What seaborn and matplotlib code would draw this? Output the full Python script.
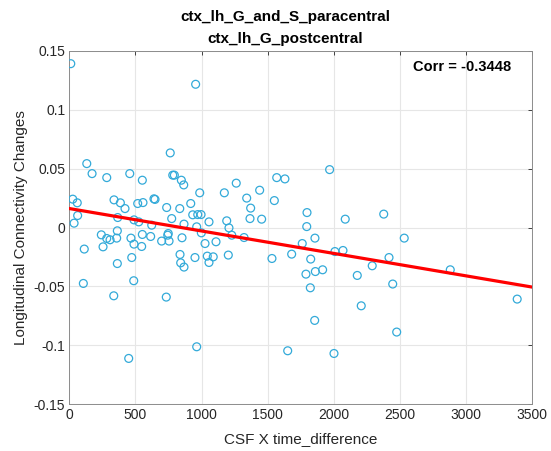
import numpy as np
import pandas as pd
import seaborn as sns
import matplotlib
matplotlib.use("Agg")
import matplotlib.pyplot as plt

# ---- data ----
csf_x_time = [11, 955, 763, 132, 172, 283, 457, 552, 782, 794, 847, 865, 986, 1262, 1172,
              1341, 1439, 1568, 1630, 1550, 1371, 1366, 1454, 1797, 1795, 26, 60, 338, 386,
              421, 517, 557, 640, 648, 736, 835, 918, 933, 971, 996, 963, 1056, 867, 774,
              1190, 1207, 63, 36, 366, 489, 525, 623, 242, 283, 308, 363, 358, 466, 489,
              552, 547, 615, 698, 748, 744, 754, 852, 837, 842, 867, 950, 1026, 1109, 1043,
              1056, 1088, 1202, 1228, 1321, 1532, 1681, 1761, 1789, 1822, 1825, 113, 255,
              363, 472, 487, 106, 336, 733, 963, 449, 1651, 998, 1968, 1857, 2086, 2377,
              2532, 2008, 2069, 1860, 1915, 2177, 2290, 2417, 2445, 2880, 2207, 1855, 2475,
              2001, 3386]
conn_change = [0.1392, 0.1217, 0.0634, 0.0543, 0.0458, 0.0424, 0.0458, 0.0402, 0.0445, 0.0445,
               0.0402, 0.0362, 0.0295, 0.0377, 0.0295, 0.0250, 0.0317, 0.0424, 0.0413, 0.0229,
               0.0165, 0.0076, 0.0071, 0.0127, 0.0008, 0.0241, 0.0210, 0.0235, 0.0210, 0.0161,
               0.0204, 0.0212, 0.0244, 0.0239, 0.0170, 0.0161, 0.0204, 0.0108, 0.0110, 0.0110,
               0.0006, 0.0048, 0.0029, 0.0076, 0.0057, -0.0003, 0.0102, 0.0037, 0.0085, 0.0065,
               0.0048, 0.0020, -0.0062, -0.0093, -0.0104, -0.0028, -0.0090, -0.0090, -0.0141,
               -0.0059, -0.0161, -0.0076, -0.0115, -0.0051, -0.0065, -0.0115, -0.0087, -0.0229,
               -0.0300, -0.0336, -0.0255, -0.0136, -0.0121, -0.0243, -0.0297, -0.0249, -0.0234,
               -0.0065, -0.0085, -0.0263, -0.0226, -0.0136, -0.0396, -0.0512, -0.0268, -0.0183,
               -0.0164, -0.0306, -0.0255, -0.0452, -0.0475, -0.0580, -0.0591, -0.1013, -0.1112,
               -0.1047, -0.0045, 0.0492, -0.0090, 0.0071, 0.0114, -0.0090, -0.0204, -0.0195,
               -0.0374, -0.0359, -0.0407, -0.0325, -0.0255, -0.0480, -0.0359, -0.0665, -0.0789,
               -0.0888, -0.1070, -0.0608]

x_ticks = [0, 500, 1000, 1500, 2000, 2500, 3000, 3500]
x_ticklabels = ["0", "500", "1000", "1500", "2000", "2500", "3000", "3500"]
y_ticks = [-0.15, -0.1, -0.05, 0, 0.05, 0.1, 0.15]
y_ticklabels = ["-0.15", "-0.1", "-0.05", "0", "0.05", "0.1", "0.15"]
title_lines = ["ctx_lh_G_and_S_paracentral", "ctx_lh_G_postcentral"]
corr_text = "Corr = -0.3448"

df = pd.DataFrame({"x": csf_x_time, "y": conn_change})

sns.set_theme(style="white")
plt.rcParams["font.family"] = ["Liberation Sans", "DejaVu Sans"]

fig = plt.figure(figsize=(5.51, 4.51), dpi=100)
ax = fig.add_axes([0.1258, 0.104, 0.8402, 0.783])

ax.set_xlim(0, 3500)
ax.set_ylim(-0.15, 0.15)

sns.scatterplot(data=df, x="x", y="y", ax=ax, marker="o", s=32,
                facecolors="none", edgecolor="#33aad9", linewidth=0.9, zorder=3)

# least-squares fit line across the axis range
slope, intercept = np.polyfit(df["x"], df["y"], 1)
fit_df = pd.DataFrame({"x": [0, 3500]})
fit_df["y"] = intercept + slope * fit_df["x"]
sns.lineplot(data=fit_df, x="x", y="y", ax=ax, color="red", linewidth=2.3, zorder=4)

ax.set_xticks(x_ticks)
ax.set_xticklabels(x_ticklabels)
ax.set_yticks(y_ticks)
ax.set_yticklabels(y_ticklabels)
ax.grid(True, color="#e6e6e6", linewidth=0.8)
ax.set_axisbelow(True)
ax.tick_params(direction="in", top=True, right=True, length=3, width=0.6,
               colors="#262626", labelsize=10, pad=3)
for sp in ax.spines.values():
    sp.set_color("#8c8c8c")
    sp.set_linewidth(0.7)

ax.set_xlabel("CSF X time_difference", fontsize=11, color="#262626", labelpad=7)
ax.set_ylabel("Longitudinal Connectivity Changes", fontsize=11, color="#262626", labelpad=4)
ax.set_title("\n".join(title_lines), fontsize=11, fontweight="bold", color="black",
             pad=6, linespacing=1.65, x=0.466)
ax.text(0.955, 0.975, corr_text, transform=ax.transAxes, ha="right", va="top",
        fontsize=10.5, fontweight="bold", color="black")

fig.savefig("out.png", dpi=100)
